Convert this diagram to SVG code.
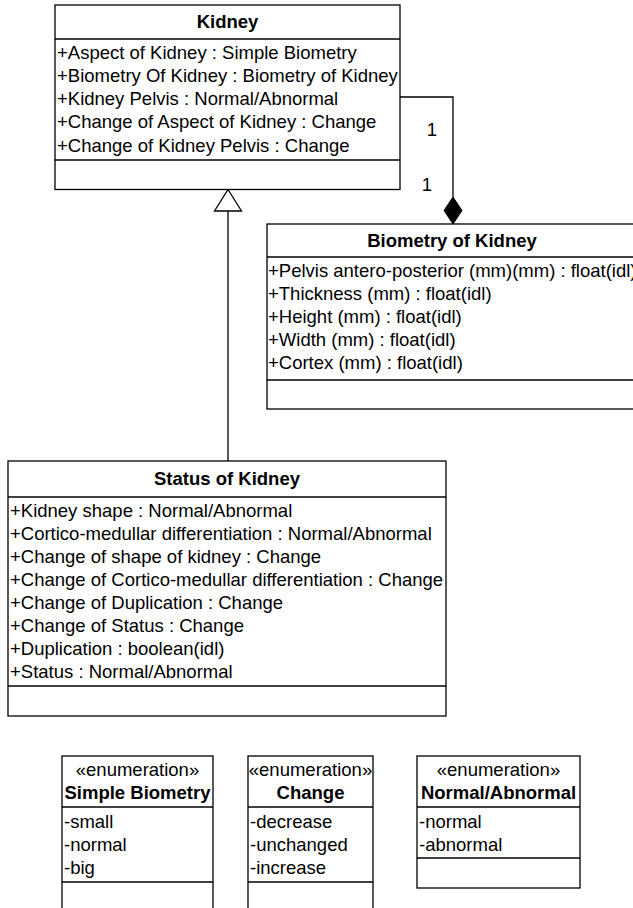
<svg xmlns="http://www.w3.org/2000/svg" width="633" height="908" viewBox="0 0 633 908">
<style>
  .box { fill: #fff; stroke: #000; stroke-width: 1.3; }
  .sep { stroke: #000; stroke-width: 1.3; }
  .t { font-family: "Liberation Sans", Arial, sans-serif; font-size: 18.5px; fill: #000; }
  .b { font-weight: bold; text-anchor: middle; }
  .c { text-anchor: middle; }
  .edge { fill: none; stroke: #000; stroke-width: 1.3; }
</style>
<rect width="633" height="908" fill="#fff"/>

<g id="connectors">
  <path class="edge" d="M228,211 L228,461"/>
  <polygon points="228,189.5 241.5,211 214.5,211" fill="#fff" stroke="#000" stroke-width="1.3"/>
  <path class="edge" d="M400,97 L453,97 L453,197"/>
  <polygon points="453,197 462,210.5 453,224 444,210.5" fill="#000" stroke="#000" stroke-width="1"/>
  <text class="t c" x="432" y="136">1</text>
  <text class="t c" x="427" y="191">1</text>
</g>

<g id="kidney">
  <rect class="box" x="55" y="5" width="345" height="184.5"/>
  <line class="sep" x1="55" y1="39" x2="400" y2="39"/>
  <line class="sep" x1="55" y1="160" x2="400" y2="160"/>
  <text class="t b" x="227.5" y="28">Kidney</text>
  <text class="t" x="57" y="59">+Aspect of Kidney : Simple Biometry</text>
  <text class="t" x="57" y="82">+Biometry Of Kidney : Biometry of Kidney</text>
  <text class="t" x="57" y="105">+Kidney Pelvis : Normal/Abnormal</text>
  <text class="t" x="57" y="128">+Change of Aspect of Kidney : Change</text>
  <text class="t" x="57" y="152">+Change of Kidney Pelvis : Change</text>
</g>

<g id="biometry">
  <rect class="box" x="267" y="224" width="372" height="185"/>
  <line class="sep" x1="267" y1="257" x2="639" y2="257"/>
  <line class="sep" x1="267" y1="380" x2="639" y2="380"/>
  <text class="t b" x="452" y="247">Biometry of Kidney</text>
  <text class="t" x="268" y="277">+Pelvis antero-posterior (mm)(mm) : float(idl)</text>
  <text class="t" x="268" y="300">+Thickness (mm) : float(idl)</text>
  <text class="t" x="268" y="323">+Height (mm) : float(idl)</text>
  <text class="t" x="268" y="346">+Width (mm) : float(idl)</text>
  <text class="t" x="268" y="369">+Cortex (mm) : float(idl)</text>
</g>

<g id="status">
  <rect class="box" x="8" y="461" width="438" height="255"/>
  <line class="sep" x1="8" y1="497" x2="446" y2="497"/>
  <line class="sep" x1="8" y1="686" x2="446" y2="686"/>
  <text class="t b" x="227" y="485">Status of Kidney</text>
  <text class="t" x="10" y="517">+Kidney shape : Normal/Abnormal</text>
  <text class="t" x="10" y="540">+Cortico-medullar differentiation : Normal/Abnormal</text>
  <text class="t" x="10" y="563">+Change of shape of kidney : Change</text>
  <text class="t" x="10" y="586">+Change of Cortico-medullar differentiation : Change</text>
  <text class="t" x="10" y="609">+Change of Duplication : Change</text>
  <text class="t" x="10" y="632">+Change of Status : Change</text>
  <text class="t" x="10" y="655">+Duplication : boolean(idl)</text>
  <text class="t" x="10" y="678">+Status : Normal/Abnormal</text>
</g>

<g id="simple-biometry">
  <rect class="box" x="62" y="756" width="151" height="160"/>
  <line class="sep" x1="62" y1="807" x2="213" y2="807"/>
  <line class="sep" x1="62" y1="882" x2="213" y2="882"/>
  <text class="t c" x="137.5" y="776">«enumeration»</text>
  <text class="t b" x="137.5" y="799">Simple Biometry</text>
  <text class="t" x="64" y="828">-small</text>
  <text class="t" x="64" y="851">-normal</text>
  <text class="t" x="64" y="874">-big</text>
</g>

<g id="change">
  <rect class="box" x="248" y="756" width="125" height="160"/>
  <line class="sep" x1="248" y1="807" x2="373" y2="807"/>
  <line class="sep" x1="248" y1="882" x2="373" y2="882"/>
  <text class="t c" x="310.5" y="776">«enumeration»</text>
  <text class="t b" x="310.5" y="799">Change</text>
  <text class="t" x="250" y="828">-decrease</text>
  <text class="t" x="250" y="851">-unchanged</text>
  <text class="t" x="250" y="874">-increase</text>
</g>

<g id="normal-abnormal">
  <rect class="box" x="417" y="756" width="163" height="132"/>
  <line class="sep" x1="417" y1="807" x2="580" y2="807"/>
  <line class="sep" x1="417" y1="858" x2="580" y2="858"/>
  <text class="t c" x="498.5" y="776">«enumeration»</text>
  <text class="t b" x="498.5" y="799">Normal/Abnormal</text>
  <text class="t" x="419" y="828">-normal</text>
  <text class="t" x="419" y="851">-abnormal</text>
</g>
</svg>
